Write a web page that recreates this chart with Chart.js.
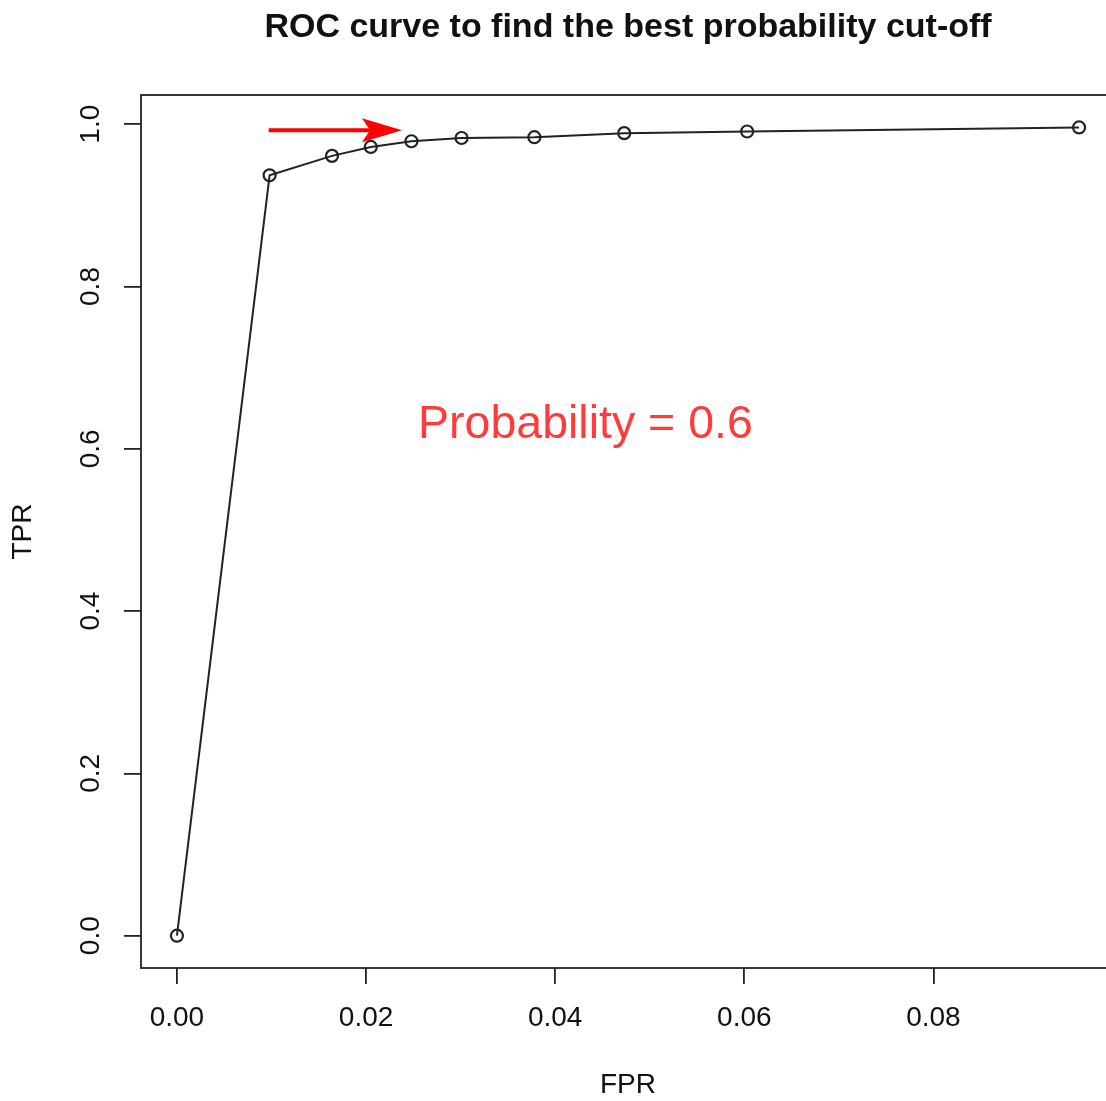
<!DOCTYPE html>
<html>
<head>
<meta charset="utf-8">
<script src="https://cdn.jsdelivr.net/npm/chart.js@4/dist/chart.umd.min.js"></script>
<style>
  html, body { margin: 0; padding: 0; background: #fff; overflow: hidden; }
  #wrap { width: 1130px; height: 1101px; }
</style>
</head>
<body>
<div id="wrap"><canvas id="rocChart" width="1130" height="1101"></canvas></div>
<script>
// ROC curve values
const fpr = [0, 0.0098, 0.0164, 0.0205, 0.0248, 0.0301, 0.0378, 0.0473, 0.0603, 0.0954];
const tpr = [0, 0.937, 0.961, 0.972, 0.979, 0.983, 0.984, 0.989, 0.991, 0.996];
const xTicks = [0, 0.02, 0.04, 0.06, 0.08];
const yTicks = [0, 0.2, 0.4, 0.6, 0.8, 1.0];
const xTickLabels = ['0.00', '0.02', '0.04', '0.06', '0.08'];
const yTickLabels = ['0.0', '0.2', '0.4', '0.6', '0.8', '1.0'];
// annotation: arrow (from, to) and label, in data units
const arrowFrom = [0.0097, 0.9926];
const arrowTo = [0.0238, 0.9926];
const noteText = 'Probability = 0.6';
const notePos = [0.0432, 0.613];

const fontName = '"Liberation Sans", Arial, Helvetica, sans-serif';

const rPlot = {
    id: 'rPlot',
    afterDraw(chart) {
        const c = chart.ctx;
        const a = chart.chartArea;
        const xs = chart.scales.x, ys = chart.scales.y;
        c.save();
        // box
        c.strokeStyle = '#222';
        c.lineWidth = 1.8;
        c.strokeRect(a.left, a.top, a.right - a.left, a.bottom - a.top);

        // tick labels
        c.fillStyle = '#111';
        c.font = '28px ' + fontName;
        c.textAlign = 'center';
        c.textBaseline = 'middle';
        xTicks.forEach((v, i) => {
            c.fillText(xTickLabels[i], xs.getPixelForValue(v), 1018);
        });
        yTicks.forEach((v, i) => {
            c.save();
            c.translate(91, ys.getPixelForValue(v));
            c.rotate(-Math.PI / 2);
            c.fillText(yTickLabels[i], 0, 0);
            c.restore();
        });

        // axis titles
        c.font = '28px ' + fontName;
        c.fillText('FPR', (a.left + a.right) / 2, 1085);
        c.save();
        c.translate(23, (a.top + a.bottom) / 2);
        c.rotate(-Math.PI / 2);
        c.fillText('TPR', 0, 0);
        c.restore();

        // main title
        c.font = 'bold 34px ' + fontName;
        c.fillText('ROC curve to find the best probability cut-off', (a.left + a.right) / 2, 28);

        // arrow
        const x1 = xs.getPixelForValue(arrowFrom[0]), y1 = ys.getPixelForValue(arrowFrom[1]);
        const x2 = xs.getPixelForValue(arrowTo[0]), y2 = ys.getPixelForValue(arrowTo[1]);
        c.strokeStyle = '#ff0000';
        c.fillStyle = '#ff0000';
        c.lineWidth = 4;
        c.beginPath();
        c.moveTo(x1, y1);
        c.lineTo(x2 - 30, y2);
        c.stroke();
        c.beginPath();
        c.moveTo(x2, y2);
        c.lineTo(x2 - 40, y2 - 12);
        c.lineTo(x2 - 32, y2);
        c.lineTo(x2 - 40, y2 + 12);
        c.closePath();
        c.fill();

        // note
        c.fillStyle = '#ff3b3b';
        c.font = '46.5px ' + fontName;
        c.textBaseline = 'alphabetic';
        c.fillText(noteText, xs.getPixelForValue(notePos[0]), ys.getPixelForValue(notePos[1]));
        c.restore();
    }
};

new Chart(document.getElementById('rocChart').getContext('2d'), {
    type: 'scatter',
    data: {
        datasets: [{
            data: fpr.map((v, i) => ({ x: v, y: tpr[i] })),
            showLine: true,
            borderColor: '#222',
            borderWidth: 2,
            pointStyle: 'circle',
            pointRadius: 6,
            pointBorderWidth: 2.2,
            pointBorderColor: '#222',
            pointBackgroundColor: 'rgba(0,0,0,0)',
            tension: 0
        }]
    },
    options: {
        responsive: false,
        animation: false,
        layout: { padding: { left: 0, top: 95, right: 15, bottom: 0 } },
        plugins: { legend: { display: false }, tooltip: { enabled: false } },
        scales: {
            x: {
                type: 'linear',
                min: -0.0038,
                max: 0.0992,
                afterBuildTicks: (s) => { s.ticks = xTicks.map(v => ({ value: v })); },
                afterFit: (s) => { s.height = 133; },
                ticks: { display: false },
                border: { display: false },
                grid: { drawOnChartArea: false, drawTicks: true, tickLength: 16, color: '#222', lineWidth: 1.8 }
            },
            y: {
                type: 'linear',
                min: -0.0398,
                max: 1.036,
                afterBuildTicks: (s) => { s.ticks = yTicks.map(v => ({ value: v })); },
                afterFit: (s) => { s.width = 141; },
                ticks: { display: false },
                border: { display: false },
                grid: { drawOnChartArea: false, drawTicks: true, tickLength: 17, color: '#222', lineWidth: 1.8 }
            }
        }
    },
    plugins: [rPlot]
});
</script>
</body>
</html>
